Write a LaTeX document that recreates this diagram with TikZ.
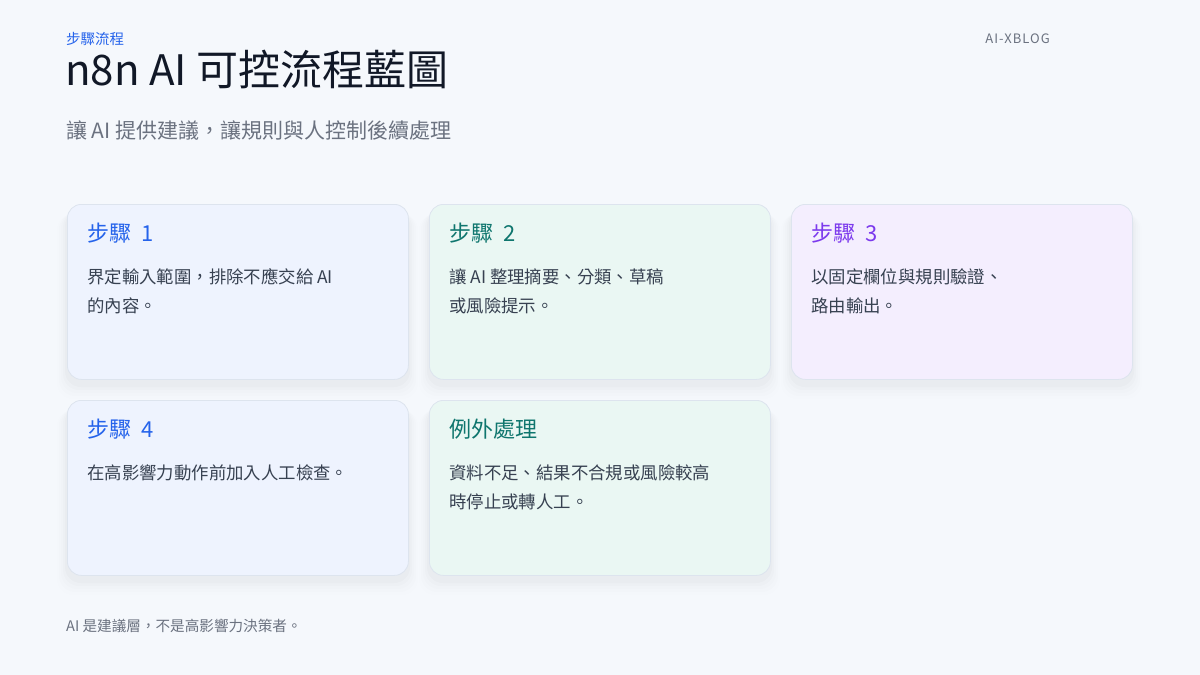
\documentclass[tikz,border=0pt]{standalone}
\usepackage{fontspec}
\setmainfont{Noto Sans CJK TC}
\usetikzlibrary{calc}
\definecolor{bg}{HTML}{F5F8FC}
\definecolor{bluet}{HTML}{2563EB}
\definecolor{tealt}{HTML}{0F766E}
\definecolor{purplet}{HTML}{7C3AED}
\definecolor{bluef}{HTML}{EEF3FE}
\definecolor{tealf}{HTML}{EAF7F3}
\definecolor{purplef}{HTML}{F4EEFE}
\definecolor{cardline}{HTML}{DDE4EE}
\definecolor{darkt}{HTML}{111827}
\definecolor{bodyt}{HTML}{374151}
\definecolor{grayt}{HTML}{6B7280}
\tikzset{
  card/.style={draw=cardline, line width=0.8pt, rounded corners=14pt, anchor=north west,
    minimum width=341pt, minimum height=175pt, inner sep=0pt},
  cardtitle/.style={anchor=base west, inner sep=0pt, font=\fontsize{22}{26}\selectfont},
  cardbody/.style={anchor=base west, inner sep=0pt, text=bodyt, font=\fontsize{17.4}{29}\selectfont, align=left},
}
\newcommand{\mycard}[4]{%
  \foreach \k/\o in {1/0.016,2/0.012,3/0.009,4/0.006,5/0.004} {
    \fill[black, opacity=\o, rounded corners=16pt] ($(#2-2*\k,#3+5+\k)$) rectangle ($(#2+341+2*\k,#3+175+3*\k+5)$);
  }
  \node[card, fill=#4] (#1) at (#2,#3) {};
}
\begin{document}
\begin{tikzpicture}[x=1pt,y=-1pt]
\fill[bg] (0,0) rectangle (1200,675);
\useasboundingbox (0,0) rectangle (1200,675);

\node[anchor=base west, inner sep=0pt, text=bluet, font=\fontsize{14.5}{16}\selectfont] (kicker) at (66,44) {步驟流程};
\node[anchor=base west, inner sep=0pt, text=darkt, font=\fontsize{42}{48}\selectfont] (title) at (65,85) {n8n AI 可控流程藍圖};
\node[anchor=base west, inner sep=0pt, text=grayt, font=\fontsize{21}{24}\selectfont] (subtitle) at (66,138) {讓 AI 提供建議，讓規則與人控制後續處理};
\node[anchor=base east, inner sep=0pt, text=grayt, font=\fontsize{13}{15}\selectfont] (brand) at (1050,43) {\addfontfeatures{LetterSpace=8}AI-XBLOG};

\mycard{c1}{67}{204}{bluef}
\mycard{c2}{429}{204}{tealf}
\mycard{c3}{791}{204}{purplef}
\mycard{c4}{67}{400}{bluef}
\mycard{c5}{429}{400}{tealf}

\node[cardtitle, text=bluet] (t1) at ($(c1.north west)+(20,37)$) {步驟\hspace{5pt} 1};
\node[cardbody] (b1) at ($(c1.north west)+(20,108)$) {界定輸入範圍，排除不應交給 AI\\的內容。};
\node[cardtitle, text=tealt] (t2) at ($(c2.north west)+(20,37)$) {步驟\hspace{5pt} 2};
\node[cardbody] (b2) at ($(c2.north west)+(20,108)$) {讓 AI 整理摘要、分類、草稿\\或風險提示。};
\node[cardtitle, text=purplet] (t3) at ($(c3.north west)+(20,37)$) {步驟\hspace{5pt} 3};
\node[cardbody] (b3) at ($(c3.north west)+(20,108)$) {以固定欄位與規則驗證、\\路由輸出。};
\node[cardtitle, text=bluet] (t4) at ($(c4.north west)+(20,37)$) {步驟\hspace{5pt} 4};
\node[cardbody] (b4) at ($(c4.north west)+(20,79)$) {在高影響力動作前加入人工檢查。};
\node[cardtitle, text=tealt] (t5) at ($(c5.north west)+(20,37)$) {例外處理};
\node[cardbody] (b5) at ($(c5.north west)+(20,108)$) {資料不足、結果不合規或風險較高\\時停止或轉人工。};

\node[anchor=base west, inner sep=0pt, text=grayt, font=\fontsize{14.6}{16}\selectfont] (footer) at (66,631) {AI 是建議層，不是高影響力決策者。};
\end{tikzpicture}
\end{document}
